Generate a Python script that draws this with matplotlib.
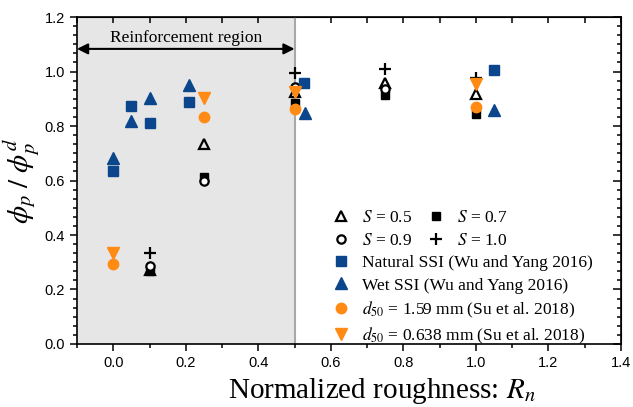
import matplotlib
matplotlib.use("Agg")
import matplotlib.pyplot as plt
from matplotlib.ticker import MultipleLocator, AutoMinorLocator

plt.rcParams['mathtext.fontset'] = 'stix'

# S series (this study)
x_s05 = [0.1, 0.25, 0.5, 0.75, 1.0]
y_s05 = [0.272, 0.733, 0.925, 0.957, 0.918]
x_s07 = [0.1, 0.25, 0.5, 0.75, 1.0]
y_s07 = [0.268, 0.612, 0.883, 0.914, 0.843]
x_s09 = [0.1, 0.25, 0.5, 0.75]
y_s09 = [0.287, 0.597, 0.944, 0.937]
x_s10 = [0.1, 0.5, 0.75, 1.0]
y_s10 = [0.335, 0.995, 1.008, 0.978]

# Wu and Yang 2016
x_nat = [0.0, 0.05, 0.1, 0.21, 0.525, 1.05]
y_nat = [0.636, 0.873, 0.810, 0.887, 0.959, 1.005]
x_wet = [0.0, 0.05, 0.1, 0.21, 0.53, 1.05]
y_wet = [0.681, 0.818, 0.902, 0.950, 0.849, 0.859]

# Su et al. 2018
x_d159 = [0.0, 0.25, 0.5, 1.0]
y_d159 = [0.294, 0.832, 0.863, 0.869]
x_d0638 = [0.0, 0.25, 0.5, 1.0]
y_d0638 = [0.333, 0.904, 0.926, 0.955]

blue = '#0b468c'
orange = '#ff8a14'
serif = 'Liberation Serif'

fig = plt.figure(figsize=(6.33, 4.07), dpi=100)
ax = fig.add_axes([0.1216, 0.1548, 0.8594, 0.8034])

# reinforcement region
ax.axvspan(-0.1, 0.5, facecolor='#e6e6e6', edgecolor='none', zorder=0)
ax.axvline(0.5, color='#a8a8a8', lw=1.5, zorder=1)
ax.annotate('', xy=(-0.1, 1.083), xytext=(0.5, 1.083),
            arrowprops=dict(arrowstyle='<|-|>', color='black', lw=1.5,
                            mutation_scale=16, shrinkA=0, shrinkB=0))
ax.text(0.2, 1.095, 'Reinforcement region', ha='center', va='bottom',
        family=serif, fontsize=12.5)

ms = 6
h_s07, = ax.plot(x_s07, y_s07, 's', color='black', ms=ms, ls='none', zorder=3)
h_s05, = ax.plot(x_s05, y_s05, '^', mfc='none', mec='black', mew=1.6, ms=ms + 1, ls='none', zorder=4)
h_s09, = ax.plot(x_s09, y_s09, 'o', mfc='white', mec='black', mew=1.6, ms=ms, ls='none', zorder=5)
h_s10, = ax.plot(x_s10, y_s10, '+', color='black', mew=1.6, ms=ms + 3, ls='none', zorder=5)
h_nat, = ax.plot(x_nat, y_nat, 's', color=blue, ms=ms + 0.5, ls='none', zorder=6)
h_wet, = ax.plot(x_wet, y_wet, '^', color=blue, ms=ms + 2, ls='none', zorder=6)
h_d159, = ax.plot(x_d159, y_d159, 'o', color=orange, ms=ms + 1.5, ls='none', zorder=6)
h_d0638, = ax.plot(x_d0638, y_d0638, 'v', color=orange, ms=ms + 2, ls='none', zorder=6)

ax.set_xlim(-0.1, 1.4)
ax.set_ylim(0, 1.2)
ax.xaxis.set_major_locator(MultipleLocator(0.2))
ax.xaxis.set_minor_locator(AutoMinorLocator(2))
ax.yaxis.set_major_locator(MultipleLocator(0.2))
ax.yaxis.set_minor_locator(AutoMinorLocator(6))
ax.tick_params(which='both', direction='out', width=1.1, labelsize=10.5)
ax.tick_params(which='major', length=5)
ax.tick_params(which='minor', length=3)
for lab in ax.get_xticklabels() + ax.get_yticklabels():
    lab.set_family('Liberation Sans')
for sp in ax.spines.values():
    sp.set_linewidth(1.2)

top = ax.secondary_xaxis('top')
top.xaxis.set_major_locator(MultipleLocator(0.1))
top.tick_params(direction='in', length=4, width=1.1, labeltop=False)
right = ax.secondary_yaxis('right')
right.yaxis.set_major_locator(MultipleLocator(0.2))
right.yaxis.set_minor_locator(AutoMinorLocator(6))
right.tick_params(which='both', direction='in', width=1.1, labelright=False)
right.tick_params(which='major', length=6)
right.tick_params(which='minor', length=3)

ax.set_xlabel('Normalized roughness: $R_n$', family=serif, fontsize=21)
ax.xaxis.set_label_coords(0.56, -0.098)
ax.set_ylabel(r'$\phi_p\ /\ \phi_p^d$', fontsize=21, labelpad=2)

leg1 = ax.legend([h_s05, h_s09, h_s07, h_s10],
                 ['$S$ = 0.5', '$S$ = 0.9', '$S$ = 0.7', '$S$ = 1.0'],
                 ncol=2, frameon=False, loc='upper left',
                 bbox_to_anchor=(0.453, 0.43), prop={'family': serif, 'size': 12.5},
                 handletextpad=0.6, columnspacing=0.8, labelspacing=0.35,
                 borderaxespad=0, handlelength=1.2)
ax.add_artist(leg1)
ax.legend([h_nat, h_wet, h_d159, h_d0638],
          ['Natural SSI (Wu and Yang 2016)', 'Wet SSI (Wu and Yang 2016)',
           '$d_{50}$ = 1.59 mm (Su et al. 2018)', '$d_{50}$ = 0.638 mm (Su et al. 2018)'],
          frameon=False, loc='upper left', bbox_to_anchor=(0.453, 0.293),
          prop={'family': serif, 'size': 12.5}, handletextpad=0.6,
          labelspacing=0.35, borderaxespad=0, handlelength=1.2)

fig.savefig('out.png', dpi=100)
